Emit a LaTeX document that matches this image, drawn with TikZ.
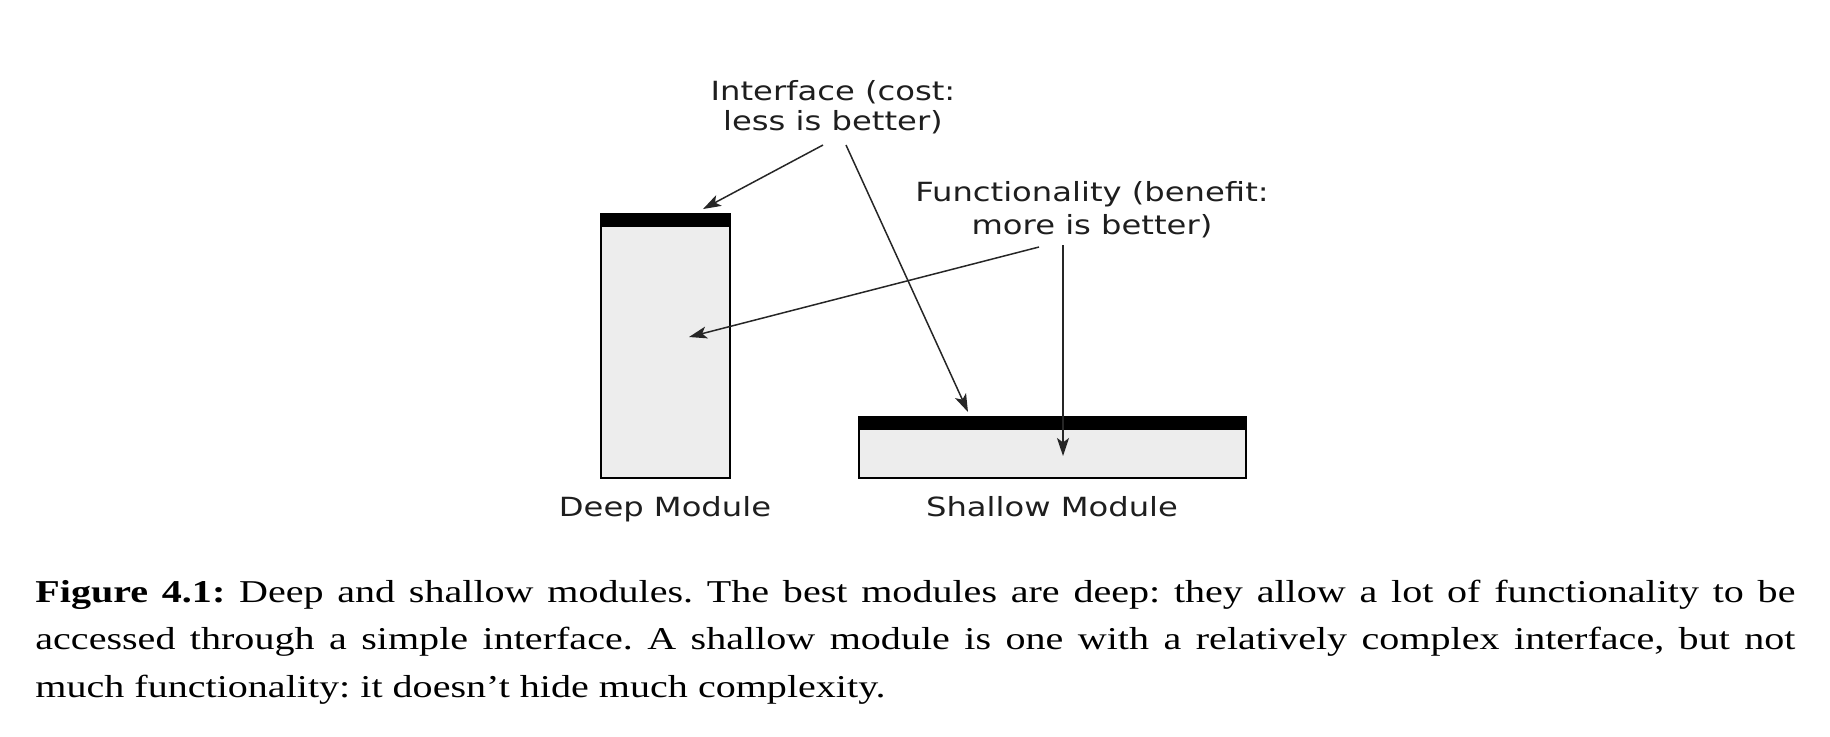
\documentclass[tikz,border=0pt]{standalone}
\usepackage{fontspec}
\setmainfont{Liberation Serif}[FakeStretch=1.26]
\newfontfamily\labelfont{DejaVu Sans}[FakeStretch=1.22]
\usetikzlibrary{arrows.meta}
\definecolor{modfill}{HTML}{EDEDED}
\definecolor{labelgray}{HTML}{1E1E1E}

\begin{document}
\begin{tikzpicture}[x=0.5pt,y=-0.5pt,
  lbl/.style={font=\labelfont\fontsize{13.2}{15}\selectfont, align=center, inner sep=0, text=labelgray},
  module/.style={draw=black, line width=1pt, fill=modfill, inner sep=0, outer sep=0},
  lid/.style={fill=black, inner sep=0, outer sep=0},
  pointer/.style={-{Stealth[length=9pt,width=6pt,inset=2.2pt]}, line width=0.75pt, draw=black!85},
  captionstyle/.style={anchor=base west, text width=880pt, align=justify, inner sep=0,
    font=\frenchspacing\fontsize{15.9}{23.75}\selectfont}
]
\useasboundingbox (0,0) rectangle (1830,736);

% modules with their interface lids
\node[module, minimum width=64.35pt, minimum height=132pt] (deep) at (665.35,346) {};
\node[lid, minimum width=65.35pt, minimum height=7pt, anchor=north] (deeplid)
  at ([yshift=0.5pt]deep.north) {};
\node[module, minimum width=193.5pt, minimum height=30.5pt] (shallow) at (1052.5,447.5) {};
\node[lid, minimum width=194.5pt, minimum height=7pt, anchor=north] (shallowlid)
  at ([yshift=0.5pt]shallow.north) {};

% labels (base anchor sits on the last line)
\node[lbl, anchor=base] (iface) at (833,130) {Interface (cost:\\less is better)};
\node[lbl, anchor=base, font=\labelfont\fontsize{13.2}{16.5}\selectfont] (func) at (1092,234)
  {Functionality (benefit:\\more is better)};
\node[lbl, anchor=base] (deeplbl) at (665,516) {Deep Module};
\node[lbl, anchor=base] (shallowlbl) at (1052,516) {Shallow Module};

% arrow end points
\coordinate (ifaceA) at (823,145);
\coordinate (ifaceB) at (846,145);
\coordinate (funcA) at (1039,247);
\coordinate (funcB) at (1063,245);
\coordinate (deeptop) at (703,209);
\coordinate (shallowtop) at (968,412);
\coordinate (deepbody) at (689,337);
\coordinate (shallowbody) at (1063,456);

\draw[pointer] (ifaceA) -- (deeptop);
\draw[pointer] (ifaceB) -- (shallowtop);
\draw[pointer] (funcA) -- (deepbody);
\draw[pointer] (funcB) -- (shallowbody);

% caption
\node[captionstyle] (caption) at (35,602) {\textbf{Figure 4.1:} Deep and shallow modules. The best modules are deep: they allow a lot of functionality to be\linebreak
accessed through a simple interface. A shallow module is one with a relatively complex interface, but not\linebreak
much functionality: it doesn't hide much complexity.};
\end{tikzpicture}
\end{document}
